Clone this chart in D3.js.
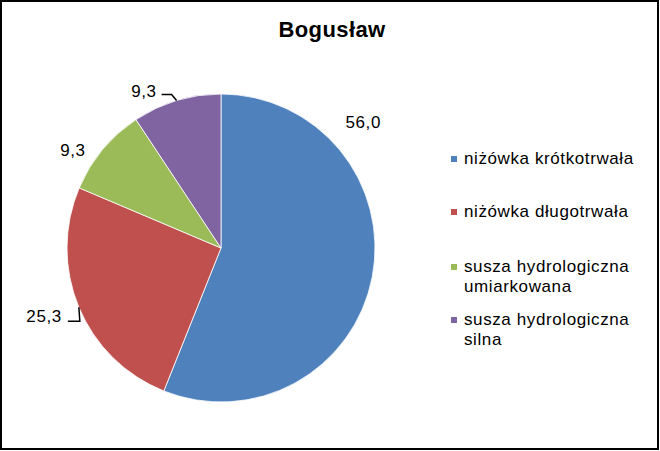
<html>
<head>
  <meta charset="utf-8">
  <script src="https://d3js.org/d3.v7.min.js"></script>
  <style>
    body { margin: 0; padding: 0; background: #fff; }
    svg { display: block; font-family: "Liberation Sans", Arial, sans-serif; }
  </style>
</head>
<body>
<div id="chart"></div>
<script>
// data
const title = "Bogusław";
const categories = [
  ["niżówka krótkotrwała"],
  ["niżówka długotrwała"],
  ["susza hydrologiczna", "umiarkowana"],
  ["susza hydrologiczna", "silna"]
];
const values = [56.0, 25.3, 9.3, 9.3];
const colors = ["#4F81BD", "#C0504D", "#9BBB59", "#8064A2"];

// label placement relative to the slice's outer edge midpoint (best fit like Excel)
const labelOffsets = [
  { dx: -9, dy: -155, leader: false },
  { dx: -17, dy: 9, leader: true },
  { dx: -17, dy: 0, leader: false },
  { dx: -20, dy: -10, leader: true }
];

const width = 660, height = 451;
const cx = 221, cy = 248, radius = 154;

const svg = d3.select("#chart").append("svg")
  .attr("width", width)
  .attr("height", height);

svg.append("rect")
  .attr("x", 1).attr("y", 1)
  .attr("width", 657).attr("height", 448)
  .attr("fill", "#fff")
  .attr("stroke", "#000")
  .attr("stroke-width", 2);

svg.append("text")
  .attr("x", 332).attr("y", 37)
  .attr("text-anchor", "middle")
  .style("font-size", "22px")
  .style("font-weight", "bold")
  .style("letter-spacing", "0.4px")
  .text(title);

const pie = d3.pie().sort(null).value(d => d);
const arcs = pie(values);
const arc = d3.arc().innerRadius(0).outerRadius(radius);
const edge = d3.arc().innerRadius(radius).outerRadius(radius);

const g = svg.append("g").attr("transform", `translate(${cx},${cy})`);

g.selectAll("path")
  .data(arcs)
  .enter()
  .append("path")
  .attr("d", arc)
  .attr("fill", (d, i) => colors[i])
  .attr("stroke", "#fff")
  .attr("stroke-width", 0.8);

const fmt = v => v.toFixed(1).replace(".", ",");

arcs.forEach((d, i) => {
  const [ex, ey] = edge.centroid(d);
  const o = labelOffsets[i];
  const tx = ex + o.dx, ty = ey + o.dy;
  if (o.leader) {
    const pts = i === 1
      ? [[ex, ey], [ex + 1, ty + 5], [tx + 6, ty + 5]]
      : [[ex, ey], [ex - 5, ty + 4], [tx + 5, ty + 4]];
    g.append("path")
      .attr("d", d3.line()(pts))
      .attr("fill", "none")
      .attr("stroke", "#000")
      .attr("stroke-width", 1.5);
  }
  g.append("text")
    .attr("class", "label")
    .attr("x", tx)
    .attr("y", ty + 6)
    .attr("text-anchor", i === 0 ? "middle" : "end")
    .style("font-size", "17px")
    .style("letter-spacing", "0.6px")
    .text(fmt(values[i]));
});

// legend
const legend = svg.append("g");
const rowBase = [164, 217, 272, 325];
categories.forEach((lines, i) => {
  legend.append("rect")
    .attr("x", 451).attr("y", rowBase[i] - 8)
    .attr("width", 6).attr("height", 6)
    .attr("fill", colors[i]);
  const t = legend.append("text")
    .attr("x", 464).attr("y", rowBase[i])
    .style("font-size", "17px")
    .style("letter-spacing", "0.6px");
  lines.forEach((line, j) => {
    t.append("tspan")
      .attr("x", 464)
      .attr("dy", j === 0 ? 0 : 20)
      .text(line);
  });
});
</script>
</body>
</html>
